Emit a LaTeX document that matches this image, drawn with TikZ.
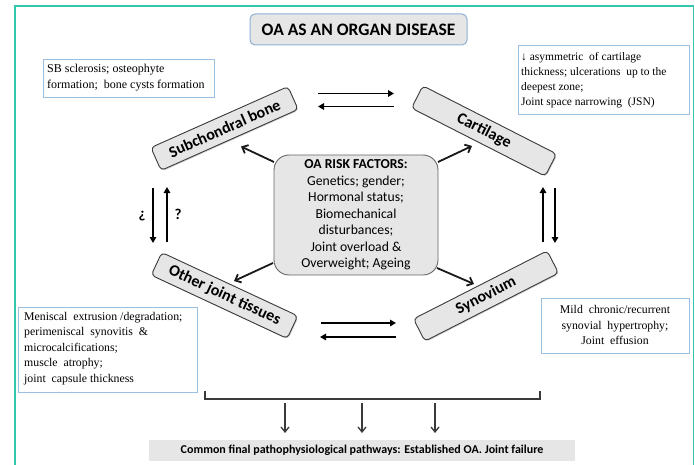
\documentclass[tikz,border=0pt]{standalone}
\usepackage{fontspec}
\setmainfont{Liberation Serif}
\newfontfamily\calib{Carlito}
\usetikzlibrary{arrows.meta,shadows}
\definecolor{teal1}{HTML}{33C7AE}
\definecolor{boxblue}{HTML}{9CC0E4}
\definecolor{titleblue}{HTML}{8FAFD6}
\definecolor{lgray}{HTML}{E6E6E6}
\definecolor{dgray}{HTML}{3A3A3A}
\tikzset{
  x=1pt, y=-1pt,
  tissue/.style={draw=dgray, line width=0.9pt, fill=lgray, rounded corners=4pt,
    minimum width=150pt, minimum height=25pt, inner sep=0pt,
    font=\calib\bfseries\fontsize{16}{18}\selectfont,
    drop shadow={shadow xshift=1pt, shadow yshift=-1pt, opacity=0.35}},
  infobox/.style={draw=boxblue, line width=0.8pt, fill=white, inner sep=0pt, anchor=north west},
  pairarrow/.style={line width=1.6pt, black, -{Triangle[length=6pt,width=6.5pt]}},
  diagarrow/.style={line width=1.8pt, black!90, -{Straight Barb[length=5pt,width=9pt]}},
  downarrow/.style={line width=1.3pt, dgray, -{Straight Barb[length=5pt,width=8pt]}},
}
\begin{document}
\begin{tikzpicture}
\useasboundingbox (0,0) rectangle (695,465);
% frame
\draw[teal1, line width=1.2pt] (15,470) -- (15,6) -- (693.5,6) -- (693.5,470);

% title
\node[draw=titleblue, line width=1pt, fill=lgray, rounded corners=5pt,
  minimum width=217pt, minimum height=31pt, inner sep=0pt,
  font=\calib\bfseries\fontsize{17.5}{19}\selectfont] (title) at (358.5,29.5) {OA AS AN ORGAN DISEASE};

% info boxes
\node[infobox, minimum width=171pt, minimum height=38pt] (sbtxt) at (43,59) {};
\node[anchor=west, align=left, font=\fontsize{12}{16}\selectfont, inner sep=0pt] (sbtxtt) at (47,78)
  {SB sclerosis; osteophyte\\formation;\ \ bone cysts formation};

\node[infobox, minimum width=171pt, minimum height=69pt] (carttxt) at (518,45) {};
\node[anchor=west, align=left, font=\fontsize{11.5}{15}\selectfont, inner sep=0pt] (carttxtt) at (521,80)
  {↓ asymmetric\ \ of cartilage\\thickness; ulcerations\ \ up to the\\deepest zone;\\Joint space narrowing\ \ (JSN)};

\node[infobox, minimum width=179pt, minimum height=85pt] (mentxt) at (18,307) {};
\node[anchor=west, align=left, font=\fontsize{11.8}{15.5}\selectfont, inner sep=0pt] (mentxtt) at (24,348.5)
  {Meniscal\ \ extrusion /degradation;\\perimeniscal\ \ synovitis\ \ \&\\microcalcifications;\\muscle\ \ atrophy;\\joint\ \ capsule thickness};

\node[infobox, minimum width=148pt, minimum height=55pt] (mildtxt) at (541,298) {};
\node[align=center, font=\fontsize{11.8}{15.5}\selectfont, inner sep=0pt] (mildtxtt) at (615,325)
  {Mild\ \ chronic/recurrent\\synovial\ \ hypertrophy;\\Joint\ \ effusion};

% central risk box
\node[draw=black!60, line width=0.9pt, fill=lgray, rounded corners=15pt,
  minimum width=164pt, minimum height=120pt, inner sep=0pt, align=center,
  font=\calib\fontsize{13.7}{16.5}\selectfont] (risk) at (356,215)
  {\textbf{OA RISK FACTORS:}\\Genetics; gender;\\Hormonal status;\\Biomechanical\\disturbances;\\Joint overload \&\\Overweight; Ageing};

% tissue nodes
\node[tissue, rotate=24] (sb) at (224.5,128.5) {Subchondral bone};
\node[tissue, rotate=-27] (cart) at (484,131) {Cartilage};
\node[tissue, rotate=-25] (other) at (224.5,295.5) {Other joint tissues};
\node[tissue, rotate=27] (syn) at (486,296) {Synovium};

% pair arrows coordinates
\coordinate (t1a) at (318,93.5);  \coordinate (t1b) at (394,93.5);
\coordinate (t2a) at (394,106.5); \coordinate (t2b) at (318,106.5);
\coordinate (b1a) at (321,323);   \coordinate (b1b) at (396,323);
\coordinate (b2a) at (396,337);   \coordinate (b2b) at (320,337);
\coordinate (l1a) at (153,188);   \coordinate (l1b) at (153,243);
\coordinate (l2a) at (167,242);   \coordinate (l2b) at (167,187);
\coordinate (r1a) at (543,242);   \coordinate (r1b) at (543,187);
\coordinate (r2a) at (555,188);   \coordinate (r2b) at (555,243);
\draw[pairarrow] (t1a) -- (t1b);
\draw[pairarrow] (t2a) -- (t2b);
\draw[pairarrow] (b1a) -- (b1b);
\draw[pairarrow] (b2a) -- (b2b);
\draw[pairarrow] (l1a) -- (l1b);
\draw[pairarrow] (l2a) -- (l2b);
\draw[pairarrow] (r1a) -- (r1b);
\draw[pairarrow] (r2a) -- (r2b);
\node[font=\calib\bfseries\fontsize{15}{16}\selectfont, inner sep=0pt] (qinv) at (142,216) {¿};
\node[font=\calib\bfseries\fontsize{15}{16}\selectfont, inner sep=0pt] (qmark) at (178,214) {?};

% diagonal arrows from risk box
\coordinate (d1a) at (274,162); \coordinate (d1b) at (241,146.5);
\coordinate (d2a) at (438,162); \coordinate (d2b) at (472,146);
\coordinate (d3a) at (273,263); \coordinate (d3b) at (234,281);
\coordinate (d4a) at (437,268); \coordinate (d4b) at (474,284);
\draw[diagarrow] (d1a) -- (d1b);
\draw[diagarrow] (d2a) -- (d2b);
\draw[diagarrow] (d3a) -- (d3b);
\draw[diagarrow] (d4a) -- (d4b);

% bracket and final
\coordinate (bk1) at (205,391); \coordinate (bk2) at (540,391);
\draw[line width=1.3pt, dgray] (bk1) -- (205,399) -- (540,399) -- (bk2);
\node[fill=lgray, minimum width=426pt, minimum height=21pt, inner sep=0pt,
  font=\calib\bfseries\fontsize{12}{13}\selectfont] (final) at (362,450.5)
  {Common final pathophysiological pathways: Established OA. Joint failure};
\coordinate (f1) at (285,403); \coordinate (f2) at (362,403); \coordinate (f3) at (435,403);
\coordinate (g1) at (285,433); \coordinate (g2) at (362,433); \coordinate (g3) at (435,433);
\draw[downarrow] (f1) -- (g1);
\draw[downarrow] (f2) -- (g2);
\draw[downarrow] (f3) -- (g3);
\end{tikzpicture}
\end{document}
